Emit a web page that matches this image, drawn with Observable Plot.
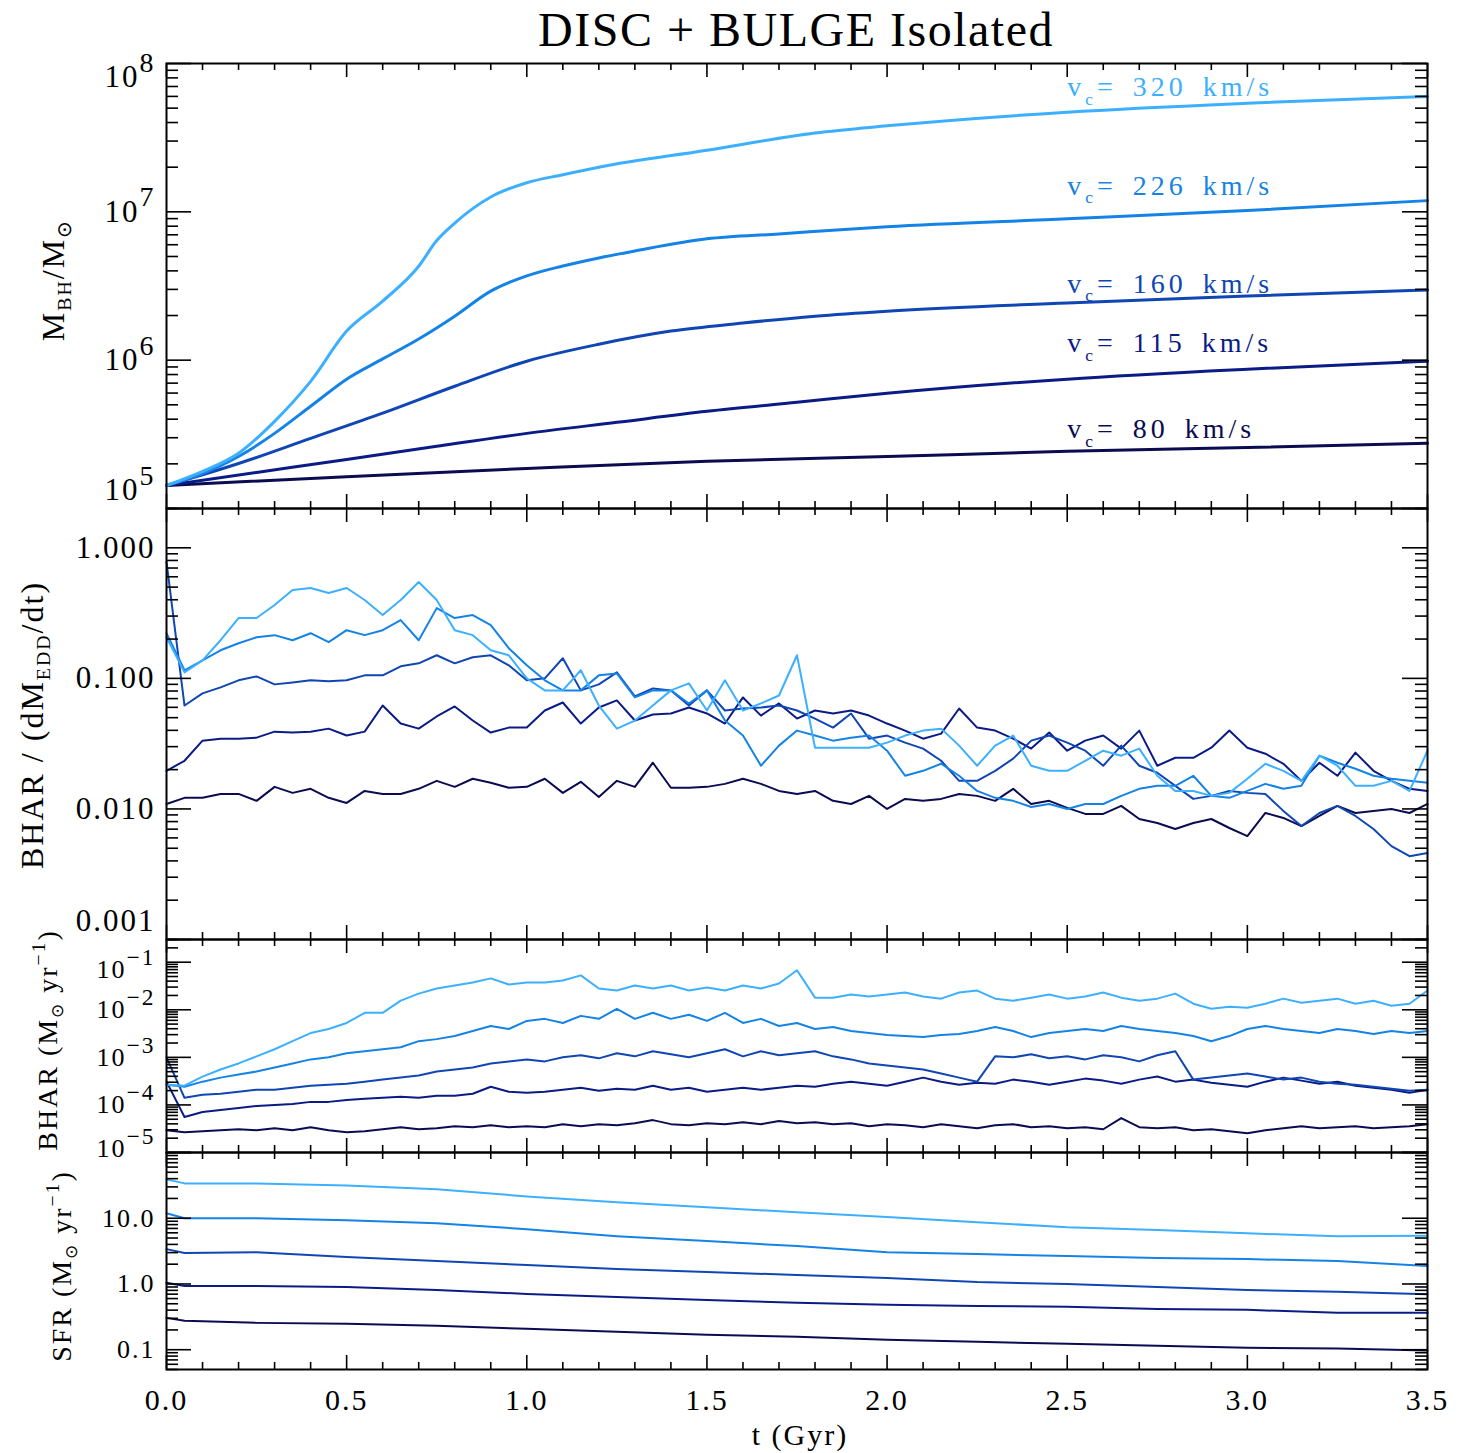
<!DOCTYPE html>
<html>
<head>
<meta charset="utf-8">
<script src="https://cdn.jsdelivr.net/npm/d3@7"></script>
<script src="https://cdn.jsdelivr.net/npm/@observablehq/plot@0.6"></script>
<style>
  html, body { margin: 0; padding: 0; background: #fff; }
  #wrap { position: relative; width: 1465px; height: 1453px; font-family: "Liberation Serif", "Times New Roman", serif; color: #000; overflow: hidden; background: #fff; }
  #title { position: absolute; left: 796px; top: 6px; transform: translateX(-50%); font-size: 48px; line-height: 48px; letter-spacing: 1.5px; white-space: nowrap; }
  .ylab { position: absolute; transform: translate(-50%, -50%) rotate(-90deg); white-space: nowrap; line-height: 1; letter-spacing: 2px; }
  .ylab sub { font-size: 62%; vertical-align: -0.35em; line-height: 0; }
  .ylab sup { font-size: 70%; vertical-align: 0.6em; line-height: 0; }
  #xlab { position: absolute; left: 800px; top: 1435px; transform: translate(-50%, -50%); font-size: 30px; letter-spacing: 2px; white-space: nowrap; }
</style>
</head>
<body>
<div id="wrap">
  <div id="title">DISC + BULGE Isolated</div>
  <div class="ylab" style="left:53px;top:280px;font-size:32px;">M<sub>BH</sub>/M<sub>⊙</sub></div>
  <div class="ylab" style="left:32px;top:725px;font-size:32px;">BHAR / (dM<sub>EDD</sub>/dt)</div>
  <div class="ylab" style="left:48px;top:1040px;font-size:28px;">BHAR (M<sub>⊙</sub> yr<sup>−1</sup>)</div>
  <div class="ylab" style="left:62px;top:1266px;font-size:28px;">SFR (M<sub>⊙</sub> yr<sup>−1</sup>)</div>
  <div id="xlab">t (Gyr)</div>
</div>
<script>
// ---------------- data ----------------
const velocities = ["80", "115", "160", "226", "320"];
const seriesColors = ["#0a0b50", "#0b1b85", "#0f46b4", "#1583e6", "#3cb0ff"];

const xMajor = [0, 0.5, 1, 1.5, 2, 2.5, 3, 3.5];

// Panel 1: black hole mass (Msun)
const mbhT80  = [0, 0.5, 1.0, 1.5, 2.0, 2.5, 3.0, 3.5];
const mbh80   = [1.43e5, 1.64e5, 1.86e5, 2.08e5, 2.24e5, 2.43e5, 2.58e5, 2.75e5];
const mbhT115 = [0, 0.25, 0.5, 0.75, 1.0, 1.25, 1.5, 1.75, 2.0, 2.5, 3.0, 3.5];
const mbh115  = [1.43e5, 1.75e5, 2.14e5, 2.63e5, 3.21e5, 3.81e5, 4.52e5, 5.2e5, 5.98e5, 7.45e5, 8.69e5, 9.84e5];
const mbhT160 = [0, 0.2, 0.4, 0.6, 0.8, 1.0, 1.2, 1.4, 1.6, 1.8, 2.0, 2.5, 3.0, 3.5];
const mbh160  = [1.43e5, 2.01e5, 2.97e5, 4.39e5, 6.67e5, 9.84e5, 1.28e6, 1.57e6, 1.78e6, 1.98e6, 2.14e6, 2.43e6, 2.71e6, 2.97e6];
const mbhT226 = [0, 0.1, 0.2, 0.3, 0.4, 0.5, 0.6, 0.7, 0.8, 0.9, 1.0, 1.1, 1.2, 1.3, 1.5, 1.7, 2.0, 2.5, 3.0, 3.5];
const mbh226  = [1.43e5, 1.72e5, 2.24e5, 3.21e5, 4.89e5, 7.45e5, 1.02e6, 1.39e6, 1.98e6, 2.92e6, 3.70e6, 4.31e6, 4.89e6, 5.45e6, 6.58e6, 7.1e6, 7.93e6, 8.97e6, 1.02e7, 1.19e7];
const mbhT320 = [0, 0.1, 0.2, 0.3, 0.4, 0.5, 0.6, 0.7, 0.75, 0.8, 0.9, 1.0, 1.1, 1.2, 1.5, 1.8, 2.0, 2.5, 3.0, 3.5];
const mbh320  = [1.43e5, 1.78e5, 2.36e5, 3.87e5, 7.2e5, 1.57e6, 2.5e6, 4.3e6, 6.4e6, 8.4e6, 1.26e7, 1.57e7, 1.78e7, 2.0e7, 2.6e7, 3.4e7, 3.8e7, 4.7e7, 5.4e7, 6.0e7];
const labelT = 2.5;
const labelMass = [3.42e5, 1.3e6, 3.27e6, 1.5e7, 6.9e7];

// Shared time sampling (Gyr) for the noisy accretion-rate panels
const tGrid = [0,0.05,0.1,0.15,0.2,0.25,0.3,0.35,0.4,0.45,0.5,0.55,0.6,0.65,0.7,0.75,0.8,0.85,0.9,0.95,
  1,1.05,1.1,1.15,1.2,1.25,1.3,1.35,1.4,1.45,1.5,1.55,1.6,1.65,1.7,1.75,1.8,1.85,1.9,1.95,
  2,2.05,2.1,2.15,2.2,2.25,2.3,2.35,2.4,2.45,2.5,2.55,2.6,2.65,2.7,2.75,2.8,2.85,2.9,2.95,
  3,3.05,3.1,3.15,3.2,3.25,3.3,3.35,3.4,3.45,3.5];

// Panel 2: log10( BHAR / (dM_EDD/dt) )
const eddLog80 = [-1.962,-1.915,-1.915,-1.885,-1.885,-1.938,-1.831,-1.877,-1.846,-1.915,
  -1.954,-1.862,-1.885,-1.885,-1.846,-1.785,-1.831,-1.769,-1.800,-1.838,
  -1.831,-1.769,-1.877,-1.792,-1.908,-1.785,-1.831,-1.646,-1.838,-1.838,
  -1.831,-1.808,-1.769,-1.808,-1.862,-1.885,-1.862,-1.938,-1.962,-1.900,
  -2.000,-1.923,-1.938,-1.923,-1.885,-1.900,-1.938,-1.846,-1.962,-1.938,
  -1.992,-2.038,-2.038,-1.977,-2.077,-2.108,-2.154,-2.108,-2.077,-2.146,
  -2.208,-2.031,-2.069,-2.131,-2.054,-1.977,-2.031,-2.015,-2.000,-2.031,-1.962];
const eddLog115 = [-1.708,-1.631,-1.477,-1.462,-1.462,-1.454,-1.408,-1.415,-1.408,-1.385,
  -1.438,-1.408,-1.208,-1.346,-1.385,-1.292,-1.215,-1.323,-1.415,-1.377,
  -1.377,-1.246,-1.185,-1.346,-1.223,-1.169,-1.323,-1.277,-1.269,-1.223,
  -1.269,-1.346,-1.146,-1.285,-1.192,-1.308,-1.246,-1.269,-1.246,-1.285,
  -1.346,-1.400,-1.462,-1.423,-1.231,-1.377,-1.400,-1.462,-1.538,-1.415,
  -1.554,-1.477,-1.438,-1.538,-1.400,-1.669,-1.608,-1.608,-1.531,-1.400,
  -1.531,-1.577,-1.654,-1.785,-1.646,-1.746,-1.569,-1.708,-1.785,-1.846,-1.862];
const eddLog160 = [-0.108,-1.208,-1.115,-1.069,-1.015,-0.985,-1.046,-1.031,-1.015,-1.023,
  -1.015,-0.977,-0.977,-0.908,-0.885,-0.823,-0.885,-0.838,-0.823,-0.900,
  -1.015,-1.000,-0.846,-1.092,-1.046,-0.954,-1.138,-1.077,-1.092,-1.208,
  -1.092,-1.246,-1.231,-1.223,-1.208,-1.246,-1.308,-1.377,-1.269,-1.462,
  -1.438,-1.492,-1.538,-1.631,-1.785,-1.785,-1.708,-1.615,-1.477,-1.438,
  -1.492,-1.554,-1.669,-1.515,-1.669,-1.723,-1.823,-1.923,-1.900,-1.862,
  -1.877,-1.885,-2.015,-2.131,-2.031,-1.977,-2.054,-2.154,-2.285,-2.362,-2.338];
const eddLog226 = [-0.654,-0.938,-0.862,-0.785,-0.731,-0.685,-0.669,-0.708,-0.654,-0.723,
  -0.631,-0.669,-0.631,-0.554,-0.708,-0.462,-0.538,-0.515,-0.592,-0.769,
  -0.900,-1.015,-1.092,-1.092,-0.977,-0.962,-1.146,-1.092,-1.092,-1.192,
  -1.092,-1.323,-1.438,-1.669,-1.515,-1.400,-1.438,-1.477,-1.454,-1.438,
  -1.554,-1.746,-1.708,-1.654,-1.746,-1.862,-1.915,-1.938,-1.985,-1.962,
  -2.000,-1.962,-1.962,-1.900,-1.846,-1.823,-1.823,-1.746,-1.900,-1.915,
  -1.862,-1.808,-1.846,-1.823,-1.592,-1.646,-1.692,-1.746,-1.769,-1.785,-1.800];
const eddLog320 = [-0.685,-0.954,-0.862,-0.708,-0.538,-0.538,-0.438,-0.323,-0.308,-0.346,
  -0.308,-0.400,-0.515,-0.400,-0.262,-0.400,-0.631,-0.669,-0.785,-0.823,
  -1.000,-1.092,-1.092,-0.938,-1.208,-1.385,-1.323,-1.208,-1.092,-1.038,
  -1.246,-1.015,-1.246,-1.192,-1.131,-0.823,-1.531,-1.531,-1.531,-1.531,
  -1.492,-1.438,-1.400,-1.385,-1.515,-1.669,-1.515,-1.438,-1.669,-1.708,
  -1.708,-1.631,-1.554,-1.592,-1.538,-1.746,-1.862,-1.862,-1.900,-1.877,
  -1.769,-1.654,-1.708,-1.785,-1.592,-1.669,-1.823,-1.823,-1.785,-1.862,-1.554];

// Panel 3: log10( BHAR / (Msun/yr) )
const bharLog80 = [-4.532,-4.574,-4.553,-4.532,-4.511,-4.532,-4.489,-4.532,-4.468,-4.532,
  -4.574,-4.553,-4.511,-4.468,-4.511,-4.489,-4.447,-4.468,-4.426,-4.468,
  -4.447,-4.468,-4.404,-4.447,-4.404,-4.426,-4.383,-4.319,-4.404,-4.426,
  -4.383,-4.404,-4.362,-4.404,-4.340,-4.383,-4.362,-4.404,-4.383,-4.447,
  -4.404,-4.426,-4.468,-4.404,-4.447,-4.489,-4.426,-4.404,-4.468,-4.447,
  -4.489,-4.468,-4.511,-4.277,-4.468,-4.489,-4.468,-4.532,-4.511,-4.553,
  -4.596,-4.532,-4.489,-4.447,-4.489,-4.468,-4.447,-4.489,-4.468,-4.447,-4.404];
const bharLog115 = [-3.511,-4.255,-4.149,-4.106,-4.064,-4.021,-4.000,-3.979,-3.936,-3.936,
  -3.894,-3.872,-3.851,-3.830,-3.851,-3.809,-3.809,-3.766,-3.617,-3.723,
  -3.745,-3.723,-3.681,-3.638,-3.702,-3.660,-3.681,-3.596,-3.681,-3.638,
  -3.723,-3.681,-3.638,-3.681,-3.638,-3.596,-3.617,-3.553,-3.511,-3.553,
  -3.596,-3.511,-3.426,-3.511,-3.574,-3.532,-3.553,-3.468,-3.511,-3.574,
  -3.511,-3.447,-3.489,-3.553,-3.468,-3.404,-3.511,-3.468,-3.532,-3.574,
  -3.617,-3.511,-3.426,-3.489,-3.553,-3.511,-3.596,-3.638,-3.681,-3.745,-3.681];
const bharLog160 = [-3.000,-3.851,-3.787,-3.766,-3.723,-3.681,-3.681,-3.638,-3.596,-3.574,
  -3.553,-3.511,-3.468,-3.426,-3.383,-3.298,-3.255,-3.213,-3.128,-3.085,
  -3.043,-3.085,-3.000,-2.957,-3.021,-2.915,-2.979,-2.872,-2.936,-3.000,
  -2.915,-2.830,-2.979,-2.872,-2.957,-2.915,-2.872,-2.979,-3.043,-3.128,
  -3.170,-3.213,-3.255,-3.340,-3.426,-3.511,-2.979,-3.000,-2.936,-3.021,
  -2.979,-3.043,-2.957,-3.000,-3.085,-2.957,-2.872,-3.468,-3.426,-3.383,
  -3.340,-3.404,-3.468,-3.426,-3.511,-3.553,-3.574,-3.617,-3.660,-3.702,-3.681];
const bharLog226 = [-3.574,-3.617,-3.511,-3.426,-3.362,-3.298,-3.213,-3.128,-3.043,-3.000,
  -2.915,-2.872,-2.830,-2.787,-2.660,-2.617,-2.553,-2.447,-2.340,-2.404,
  -2.234,-2.191,-2.277,-2.128,-2.191,-1.979,-2.191,-2.064,-2.191,-2.106,
  -2.234,-2.064,-2.277,-2.191,-2.340,-2.277,-2.404,-2.362,-2.447,-2.489,
  -2.532,-2.553,-2.574,-2.532,-2.511,-2.447,-2.362,-2.447,-2.574,-2.489,
  -2.447,-2.404,-2.447,-2.340,-2.404,-2.447,-2.489,-2.553,-2.660,-2.553,
  -2.404,-2.340,-2.404,-2.447,-2.489,-2.404,-2.447,-2.511,-2.447,-2.489,-2.447];
const bharLog320 = [-3.574,-3.596,-3.404,-3.255,-3.128,-2.979,-2.830,-2.660,-2.489,-2.404,
  -2.277,-2.064,-2.064,-1.809,-1.660,-1.553,-1.489,-1.426,-1.340,-1.468,
  -1.426,-1.426,-1.383,-1.277,-1.553,-1.596,-1.489,-1.553,-1.489,-1.596,
  -1.532,-1.596,-1.489,-1.553,-1.447,-1.170,-1.745,-1.745,-1.681,-1.723,
  -1.681,-1.638,-1.723,-1.766,-1.638,-1.596,-1.766,-1.809,-1.745,-1.681,
  -1.766,-1.723,-1.638,-1.745,-1.809,-1.766,-1.660,-1.872,-1.979,-1.936,
  -1.957,-1.872,-1.766,-1.851,-1.809,-1.766,-1.872,-1.809,-1.915,-1.872,-1.596];

// Panel 4: star formation rate (Msun/yr)
const sfrT   = [0, 0.05, 0.25, 0.5, 0.75, 1, 1.25, 1.5, 1.75, 2, 2.25, 2.5, 2.75, 3, 3.25, 3.5];
const sfr80  = [0.305, 0.275, 0.256, 0.248, 0.231, 0.208, 0.187, 0.169, 0.157, 0.142, 0.132, 0.123, 0.115, 0.107, 0.104, 0.097];
const sfr115 = [1.04, 0.933, 0.933, 0.901, 0.811, 0.705, 0.635, 0.572, 0.516, 0.481, 0.464, 0.449, 0.418, 0.404, 0.364, 0.364];
const sfr160 = [3.39, 2.95, 3.05, 2.57, 2.23, 1.94, 1.69, 1.52, 1.37, 1.23, 1.07, 1.00, 0.90, 0.81, 0.76, 0.70];
const sfr226 = [11.9, 10.0, 10.0, 9.33, 8.40, 6.81, 5.34, 4.49, 3.77, 3.05, 2.85, 2.66, 2.48, 2.39, 2.23, 1.87];
const sfr320 = [39.0, 33.9, 33.9, 31.6, 27.5, 21.5, 17.5, 14.7, 12.3, 10.4, 8.7, 7.3, 6.6, 5.9, 5.3, 5.4];

// tick label values
const massTicks = [1e5, 1e6, 1e7, 1e8];
const eddTicks = [0.001, 0.01, 0.1, 1];
const bharTicks = [1e-5, 1e-4, 1e-3, 1e-2, 1e-1];
const sfrTicks = [0.1, 1, 10];

// ---------------- drawing ----------------
const W = 1465, ML = 166, MR = 38, IW = W - ML - MR;
const wrap = document.getElementById("wrap");
const xMinor = d3.range(1, 35).map(i => i / 10).filter(v => Math.abs(v * 2 - Math.round(v * 2)) > 1e-6);

function logMinor(lo, hi) {
  const out = [];
  for (let e = Math.floor(Math.log10(lo)) - 1; e <= Math.ceil(Math.log10(hi)); e++)
    for (let m = 2; m <= 9; m++) {
      const v = m * Math.pow(10, e);
      if (v >= lo * 0.999 && v <= hi * 1.001) out.push(v);
    }
  return out;
}
function logMajor(lo, hi) {
  const out = [];
  for (let e = Math.ceil(Math.log10(lo) - 1e-9); e <= Math.floor(Math.log10(hi) + 1e-9); e++) out.push(Math.pow(10, e));
  return out;
}
const rows = (ts, vs, tr) => ts.map((t, i) => ({t, v: tr ? tr(vs[i]) : vs[i]}));
const pow10 = v => Math.pow(10, v);

function richText(root) {
  const NS = "http://www.w3.org/2000/svg";
  root.querySelectorAll("text").forEach(t => {
    if (t.querySelector("tspan")) return;
    const s = t.textContent;
    if (s.includes("km/s")) { t.style.letterSpacing = "4px"; t.style.wordSpacing = "5px"; }
    if (!/[\^_]\{/.test(s)) return;
    t.textContent = "";
    let cur = 0;
    const add = (txt, shift, size) => {
      if (!txt) return;
      const ts = document.createElementNS(NS, "tspan");
      ts.textContent = txt;
      const d = (shift - cur) / size;
      if (Math.abs(d) > 1e-6) ts.setAttribute("dy", d.toFixed(3) + "em");
      if (size !== 1) ts.setAttribute("font-size", (size * 100) + "%");
      cur = shift;
      t.appendChild(ts);
    };
    const re = /([\^_])\{([^}]*)\}/g;
    let last = 0, m;
    while ((m = re.exec(s))) {
      add(s.slice(last, m.index), 0, 1);
      if (m[1] === "^") add(m[2], -0.5, 0.9); else add(m[2], 0.3, 0.62);
      last = re.lastIndex;
    }
    add(s.slice(last), 0, 1);
  });
}

function yLabels(values, fmt, fontSize, offsets) {
  return values.map(v => Plot.text([v], {
    y: d => d, text: fmt, frameAnchor: "left", dx: -11,
    dy: (offsets && offsets[v]) || 0, textAnchor: "end", fontSize
  }));
}

function panel({top, bottom, domain, marks, mb = 30, mt = 30}) {
  const h = bottom - top;
  const tk = {stroke: "#000", strokeWidth: 1.6};
  const major = logMajor(domain[0], domain[1]);
  const minor = logMinor(domain[0], domain[1]);
  const tickMarks = [
    Plot.tickX(xMinor, {x: d => d, insetTop: h - 7, ...tk}),
    Plot.tickX(xMinor, {x: d => d, insetBottom: h - 7, ...tk}),
    Plot.tickX(xMajor, {x: d => d, insetTop: h - 14, ...tk}),
    Plot.tickX(xMajor, {x: d => d, insetBottom: h - 14, ...tk}),
    Plot.tickY(minor, {y: d => d, insetRight: IW - 12, ...tk}),
    Plot.tickY(minor, {y: d => d, insetLeft: IW - 12, ...tk}),
    Plot.tickY(major, {y: d => d, insetRight: IW - 25, ...tk}),
    Plot.tickY(major, {y: d => d, insetLeft: IW - 25, ...tk}),
    Plot.frame({stroke: "#000", strokeWidth: 2})
  ];
  const svg = Plot.plot({
    width: W, height: h + mt + mb,
    marginLeft: ML, marginRight: MR, marginTop: mt, marginBottom: mb,
    x: {domain: [0, 3.5], axis: null},
    y: {type: "log", domain, axis: null},
    style: {background: "transparent", overflow: "visible", fontFamily: "'Liberation Serif', 'Times New Roman', serif", letterSpacing: "2px", color: "#000"},
    marks: [...marks, ...tickMarks]
  });
  svg.style.position = "absolute";
  svg.style.left = "0px";
  svg.style.top = (top - mt) + "px";
  svg.style.background = "transparent";
  svg.style.overflow = "visible";
  richText(svg);
  wrap.appendChild(svg);
}

// Panel 1
const mbhSeries = [[mbhT80, mbh80], [mbhT115, mbh115], [mbhT160, mbh160], [mbhT226, mbh226], [mbhT320, mbh320]];
panel({
  top: 63, bottom: 508, domain: [1e5, 1e8],
  marks: [
    ...mbhSeries.map(([ts, vs], i) => Plot.line(rows(ts, vs), {x: "t", y: "v", stroke: seriesColors[i], strokeWidth: 3, curve: "monotone-x"})),
    ...velocities.map((vel, i) => Plot.text([{t: labelT, m: labelMass[i]}], {
      x: "t", y: "m", text: () => `v_{c}= ${vel} km/s`, fill: seriesColors[i],
      textAnchor: "start", fontSize: 28
    })),
    ...yLabels(massTicks, v => `10^{${Math.round(Math.log10(v))}}`, 31, {[1e8]: 14, [1e5]: -18})
  ]
});

// Panel 2
const eddSeries = [eddLog80, eddLog115, eddLog160, eddLog226, eddLog320];
panel({
  top: 508, bottom: 939, domain: [1e-3, 2],
  marks: [
    ...eddSeries.map((vs, i) => Plot.line(rows(tGrid, vs, pow10), {x: "t", y: "v", stroke: seriesColors[i], strokeWidth: 2})),
    ...yLabels(eddTicks, v => v.toFixed(3), 31, {[0.001]: -18})
  ]
});

// Panel 3
const bharSeries = [bharLog80, bharLog115, bharLog160, bharLog226, bharLog320];
panel({
  top: 939, bottom: 1152, domain: [1e-5, 0.3],
  marks: [
    ...bharSeries.map((vs, i) => Plot.line(rows(tGrid, vs, pow10), {x: "t", y: "v", stroke: seriesColors[i], strokeWidth: 2})),
    ...yLabels(bharTicks, v => `10^{−${-Math.round(Math.log10(v))}}`, 26, {[1e-5]: -4, [1e-1]: 7})
  ]
});

// Panel 4
const sfrSeries = [sfr80, sfr115, sfr160, sfr226, sfr320];
panel({
  top: 1152, bottom: 1369, domain: [0.05, 100], mb: 70,
  marks: [
    ...sfrSeries.map((vs, i) => Plot.line(rows(sfrT, vs), {x: "t", y: "v", stroke: seriesColors[i], strokeWidth: 2})),
    ...yLabels(sfrTicks, v => v.toFixed(1), 26),
    Plot.text(xMajor, {x: d => d, text: d => d.toFixed(1), frameAnchor: "bottom", dy: 40, fontSize: 30})
  ]
});
</script>
</body>
</html>
